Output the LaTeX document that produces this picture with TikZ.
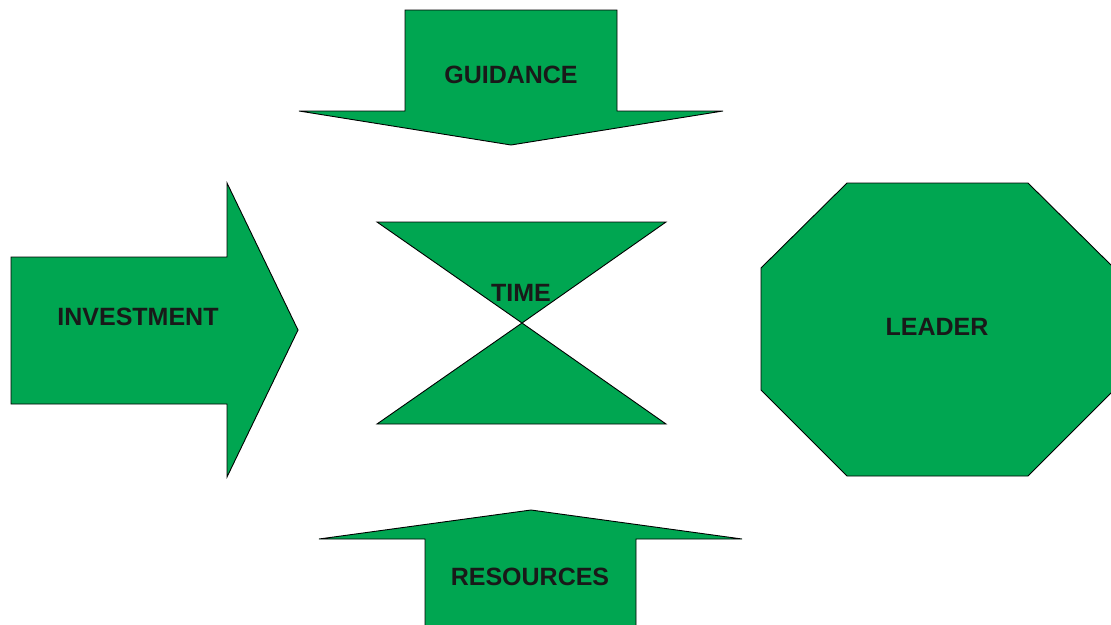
\documentclass[tikz,border=0pt]{standalone}
\usepackage{fontspec}
\setmainfont{Liberation Sans}
\definecolor{shapegreen}{RGB}{0,166,81}
\begin{document}
\begin{tikzpicture}[x=1pt,y=-1pt,
  greenshape/.style={fill=shapegreen,draw=black,line width=0.9pt,line join=miter},
  lbl/.style={font=\bfseries\fontsize{25}{30}\selectfont,text=black!90,inner sep=0pt}]
\useasboundingbox (0,0) rectangle (1111,624);
\begin{scope}
\clip (0,0) rectangle (1111,624);
% downward arrow at the top
\draw[greenshape] (405,10) -- (617,10) -- (617,111) -- (723,111) -- (511,145)
  -- (299,111) -- (405,111) -- cycle;
% rightward arrow on the left
\draw[greenshape] (11,257) -- (227,257) -- (227,183) -- (298,330) -- (227,477)
  -- (227,404) -- (11,404) -- cycle;
% hourglass in the middle
\draw[greenshape] (377,222) -- (666,222) -- (522,323) -- (666,424) -- (377,424)
  -- (522,323) -- cycle;
% octagon on the right
\draw[greenshape] (847,183) -- (1028,183) -- (1114,268) -- (1114,390) -- (1028,476)
  -- (847,476) -- (761,390) -- (761,268) -- cycle;
% upward arrow at the bottom
\draw[greenshape] (425,640) -- (425,539) -- (319,539) -- (531,510) -- (742,539)
  -- (636,539) -- (636,640) -- cycle;
\end{scope}
\node[lbl] (guidance) at (511,75) {GUIDANCE};
\node[lbl] (investment) at (138,317) {INVESTMENT};
\node[lbl] (time) at (521,293) {TIME};
\node[lbl] (leader) at (937,327) {LEADER};
\node[lbl] (resources) at (530,577) {RESOURCES};
\end{tikzpicture}
\end{document}
